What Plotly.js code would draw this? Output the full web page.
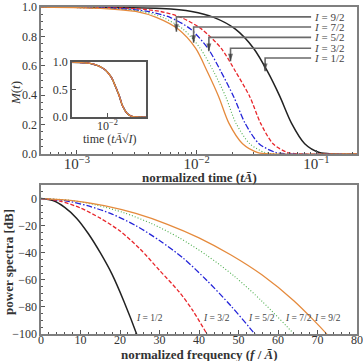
<!DOCTYPE html>
<html>
<head>
<meta charset="utf-8">
<script src="https://cdn.plot.ly/plotly-3.0.1.min.js"></script>
<style>html,body{margin:0;padding:0;background:#fff;}</style>
</head>
<body>
<div id="chart" style="width:363px;height:361px;"></div>
<script>
// ---- Top panel: M(t) versus normalized time (log x) ----
const mLevels = [1.0, 0.99, 0.97, 0.93, 0.85, 0.72, 0.56, 0.39, 0.21, 0.07, 0.01, 0.0, 0.0];
const tHalf1  = [0.0005, 0.0051, 0.0091, 0.0139, 0.0211, 0.0299, 0.0392, 0.0497, 0.0620, 0.0800, 0.1060, 0.140, 0.22];
const tHalf3  = [0.0005, 0.0030, 0.0050, 0.0074, 0.0110, 0.0160, 0.0212, 0.0278, 0.0342, 0.0435, 0.0575, 0.076, 0.22];
const tHalf5  = [0.0005, 0.0022, 0.0039, 0.0060, 0.0089, 0.0124, 0.0160, 0.0204, 0.0254, 0.0332, 0.0460, 0.060, 0.22];
const tHalf7  = [0.0005, 0.0019, 0.0035, 0.0052, 0.0077, 0.0107, 0.0139, 0.0175, 0.0213, 0.0278, 0.0372, 0.050, 0.22];
const tHalf9  = [0.0005, 0.0017, 0.0031, 0.0046, 0.0070, 0.0098, 0.0123, 0.0153, 0.0186, 0.0242, 0.0325, 0.043, 0.22];

// ---- Inset: all curves collapse on scaled time t*A*sqrt(I) ----
const insetTime = [0.0010, 0.00213, 0.00392, 0.00592, 0.00895, 0.01252, 0.01576, 0.0196, 0.0237, 0.0309, 0.0413, 0.0554, 0.10];

// ---- Bottom panel: power spectra [dB] versus normalized frequency ----
const fHalf1 = [0, 3, 6, 9, 12, 15, 18, 21, 24.2, 25];
const dbHalf1 = [0, -1.5, -6.5, -14.5, -26, -40, -56, -76, -100, -107];
const fHalf3 = [0, 5, 10, 15, 20, 25, 30, 35, 38.5, 42, 43];
const dbHalf3 = [0, -2, -7, -14.5, -24, -37, -53, -69, -83, -100, -105];
const fHalf5 = [0, 6, 12, 18, 24, 30, 36, 42, 48, 54.1, 55];
const dbHalf5 = [0, -1.5, -5.5, -11.5, -20, -31, -44, -60.5, -79, -100, -104];
const fHalf7 = [0, 7, 14, 21, 28, 35, 42, 49, 56, 64, 65];
const dbHalf7 = [0, -1.2, -4.8, -10.5, -18.5, -29, -42, -57.5, -76, -100, -104];
const fHalf9 = [0, 8, 16, 24, 32, 40, 48, 56, 64, 72.3, 73];
const dbHalf9 = [0, -1.5, -5.2, -11, -19, -29, -41.5, -56.5, -75.5, -100, -103];

// ---- Labels / annotations ----
const spinLabels = ['<i>I</i> = 1/2', '<i>I</i> = 3/2', '<i>I</i> = 5/2', '<i>I</i> = 7/2', '<i>I</i> = 9/2'];
const arrowT     = [0.03736, 0.0192, 0.01266, 0.00944, 0.00678];
const arrowTipM  = [0.564, 0.631, 0.700, 0.757, 0.832];
const labelM     = [0.653, 0.720, 0.794, 0.864, 0.933];
const labelT     = 0.0905;
const specLabelF = [23.5, 40.5, 52, 61.3, 68.7];
const specLabelDb = -88;

const colors = ['#222222', '#e8262b', '#2323d8', '#4cae4c', '#e58a3c'];
const dashes = ['solid', '4px,2px', '6px,2px,1.5px,2px', '1px,2px', 'solid'];
const widths = [1.5, 1.3, 1.3, 1.1, 1.3];
const tSets = [tHalf1, tHalf3, tHalf5, tHalf7, tHalf9];
const fSets = [fHalf1, fHalf3, fHalf5, fHalf7, fHalf9];
const dbSets = [dbHalf1, dbHalf3, dbHalf5, dbHalf7, dbHalf9];

const traces = [];
for (let i = 0; i < 5; i++) {
  traces.push({x: tSets[i], y: mLevels, xaxis: 'x', yaxis: 'y', mode: 'lines',
    line: {color: colors[i], dash: dashes[i], width: widths[i], shape: 'spline', smoothing: 0.8},
    hoverinfo: 'skip'});
}
// connectors: horizontal leader + vertical arrow to each curve
for (let i = 0; i < 5; i++) {
  traces.push({x: [labelT, arrowT[i], arrowT[i]], y: [labelM[i], labelM[i], arrowTipM[i]],
    xaxis: 'x', yaxis: 'y', mode: 'lines+markers',
    line: {color: '#6a6a6a', width: 1.6},
    marker: {symbol: 'arrow', angleref: 'previous', size: [0, 0, 8], color: '#333', line: {width: 0}},
    hoverinfo: 'skip'});
}
for (let i = 0; i < 5; i++) {
  traces.push({x: insetTime, y: mLevels, xaxis: 'x2', yaxis: 'y2', mode: 'lines',
    line: {color: colors[i], dash: dashes[i], width: widths[i], shape: 'spline', smoothing: 0.8},
    hoverinfo: 'skip'});
}
for (let i = 0; i < 5; i++) {
  traces.push({x: fSets[i], y: dbSets[i], xaxis: 'x3', yaxis: 'y3', mode: 'lines',
    line: {color: colors[i], dash: dashes[i], width: widths[i], shape: 'spline', smoothing: 0.8},
    hoverinfo: 'skip'});
}

const titleFont = {size: 13, color: '#333'};
const annotations = [];
for (let i = 0; i < 5; i++) {
  annotations.push({xref: 'x', yref: 'y', x: Math.log10(labelT), y: labelM[i], xanchor: 'left', yanchor: 'middle',
    xshift: 1, text: spinLabels[i], showarrow: false, font: {size: 11, color: '#444'}});
  annotations.push({xref: 'x3', yref: 'y3', x: specLabelF[i], y: specLabelDb, xanchor: 'left', yanchor: 'middle',
    text: spinLabels[i], showarrow: false, font: {size: 9.5, color: '#444'}});
}
// axis titles placed as paper annotations for precise positioning
annotations.push({xref: 'paper', yref: 'paper', x: 0.5, y: 0.48, xanchor: 'center', yanchor: 'middle',
  text: '<b>normalized time (<i>tĀ</i>)</b>', showarrow: false, font: titleFont});
annotations.push({xref: 'paper', yref: 'paper', x: 0.5, y: -0.062, xanchor: 'center', yanchor: 'middle',
  text: '<b>normalized frequency (<i>f</i> / <i>Ā</i>)</b>', showarrow: false, font: titleFont});
annotations.push({xref: 'paper', yref: 'paper', x: -0.082, y: 0.737, xanchor: 'center', yanchor: 'middle',
  textangle: -90, text: '<i>M</i>(<i>t</i>)', showarrow: false, font: titleFont});
annotations.push({xref: 'paper', yref: 'paper', x: -0.105, y: 0.22, xanchor: 'center', yanchor: 'middle',
  textangle: -90, text: '<b>power spectra [dB]</b>', showarrow: false, font: titleFont});
annotations.push({xref: 'paper', yref: 'paper', x: 0.217, y: 0.597, xanchor: 'center', yanchor: 'middle',
  text: 'time (<i>tĀ</i>√<i>I</i>)', showarrow: false, font: {size: 12, color: '#333'}});

const axisLine = {showline: true, mirror: true, linecolor: '#7f7f7f', linewidth: 1.6, showgrid: false, zeroline: false,
  ticks: 'inside', ticklen: 4, tickwidth: 1, tickcolor: '#555', ticklabeloverflow: 'allow'};

const layout = {
  width: 363, height: 361,
  margin: {l: 41, r: 6, t: 7, b: 27},
  paper_bgcolor: '#ffffff', plot_bgcolor: '#ffffff',
  showlegend: false,
  font: {family: 'Liberation Serif', size: 12, color: '#333'},
  xaxis: Object.assign({}, axisLine, {domain: [0, 1], anchor: 'y', type: 'log', range: [-3.3, -0.66], dtick: 1,
    exponentformat: 'power', ticklabelstandoff: -4, minor: {ticks: 'inside', ticklen: 2, tickcolor: '#555'}}),
  yaxis: Object.assign({}, axisLine, {domain: [0.5505, 1], anchor: 'x', range: [0, 1.0005], dtick: 0.2, tickformat: '.1f',
    minor: {ticks: 'inside', ticklen: 2, dtick: 0.05, tickcolor: '#555'}}),
  xaxis2: Object.assign({}, axisLine, {domain: [0.0975, 0.333], anchor: 'y2', type: 'log', range: [-2.9, -1.025],
    tickvals: [0.01], ticktext: ['10<sup>−2</sup>'], linecolor: '#555', ticklabelstandoff: -3}),
  yaxis2: Object.assign({}, axisLine, {domain: [0.6636, 0.8318], anchor: 'x2', range: [0, 1.0005], tickvals: [0, 0.5, 1.0],
    tickformat: '.1f', linecolor: '#555'}),
  xaxis3: Object.assign({}, axisLine, {domain: [0, 1], anchor: 'y3', range: [0, 80.001], dtick: 10, ticklabelstandoff: -6,
    minor: {ticks: 'inside', ticklen: 2, dtick: 2, tickcolor: '#555'}}),
  yaxis3: Object.assign({}, axisLine, {domain: [0, 0.4557], anchor: 'x3', range: [-100, 10],
    tickvals: [0, -20, -40, -60, -80, -100], minor: {ticks: 'inside', ticklen: 2, dtick: 5, tickcolor: '#555'}}),
  annotations: annotations
};

Plotly.newPlot('chart', traces, layout, {displayModeBar: false, staticPlot: true});
</script>
</body>
</html>
